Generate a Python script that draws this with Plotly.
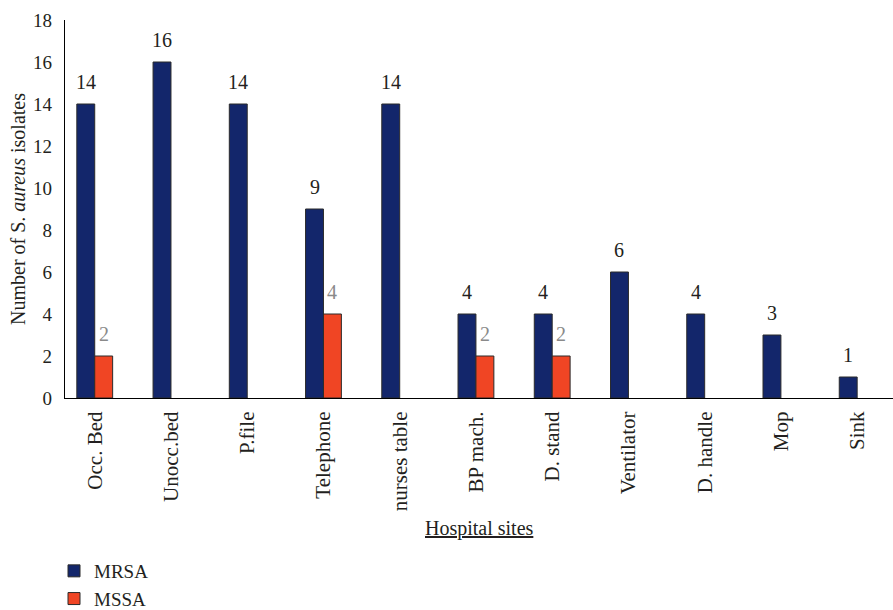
import plotly.graph_objects as go

sites = ["Occ. Bed", "Unocc.bed", "P.file", "Telephone", "nurses table", "BP mach.",
         "D. stand", "Ventilator", "D. handle", "Mop", "Sink"]
mrsa = [14, 16, 14, 9, 14, 4, 4, 6, 4, 3, 1]
mssa = [2, None, None, 4, None, 2, 2, None, None, None, None]

FONT = "Liberation Serif"
W, H = 893, 610
L, R, T, B = 65, 0, 20, 212
pw, ph = W - L - R, H - T - B
XR = [-0.39, 10.47]
BARGAP = 0.53
px_per_cat = pw / (XR[1] - XR[0])
bar_px = (1 - BARGAP) / 2 * px_per_cat

fig = go.Figure()
fig.add_trace(go.Bar(
    x=sites, y=mrsa, name="MRSA",
    marker=dict(color="#13266b", line=dict(color="#2b2b2b", width=1)),
))
fig.add_trace(go.Bar(
    x=sites, y=mssa, name="MSSA",
    marker=dict(color="#f04524", line=dict(color="#2b2b2b", width=1)),
))

annotations = []
for s, v in zip(sites, mrsa):
    if v is not None:
        annotations.append(dict(x=s, y=v, xref="x", yref="y", text=str(v), showarrow=False,
                                xshift=-bar_px / 2, yshift=9, yanchor="bottom", xanchor="center",
                                font=dict(family=FONT, size=20, color="#231f20")))
for s, v in zip(sites, mssa):
    if v is not None:
        annotations.append(dict(x=s, y=v, xref="x", yref="y", text=str(v), showarrow=False,
                                xshift=bar_px / 2, yshift=9, yanchor="bottom", xanchor="center",
                                font=dict(family=FONT, size=20, color="#8a8a8a")))
annotations += [
    dict(text="Number of S. <i>aureus</i> isolates", xref="paper", yref="paper",
         x=(18 - L) / pw, y=0.5, xanchor="center", yanchor="middle", textangle=-90,
         showarrow=False, font=dict(family=FONT, size=20, color="#231f20")),
    dict(text="<u>Hospital sites</u>", xref="paper", yref="paper",
         x=0.5, y=-(528 - (T + ph)) / ph, xanchor="center", yanchor="middle",
         showarrow=False, font=dict(family=FONT, size=20, color="#231f20")),
]

fig.update_layout(
    width=W, height=H,
    margin=dict(l=L, r=R, t=T, b=B, autoexpand=False),
    paper_bgcolor="white", plot_bgcolor="white",
    barmode="group", bargap=BARGAP, bargroupgap=0,
    font=dict(family=FONT, size=19, color="#231f20"),
    showlegend=True,
    legend=dict(x=(54 - L) / pw, yref="container", y=1 - 552 / H,
                xanchor="left", yanchor="top",
                font=dict(family=FONT, size=19, color="#231f20"),
                bgcolor="rgba(0,0,0,0)", tracegroupgap=0),
    xaxis=dict(range=XR, showline=True, linecolor="black", linewidth=1.2,
               tickangle=-90, ticks="outside", ticklen=4, tickcolor="rgba(0,0,0,0)",
               showgrid=False, zeroline=False,
               tickfont=dict(family=FONT, size=21, color="#231f20")),
    yaxis=dict(range=[0, 18], dtick=2, showline=True, linecolor="black", linewidth=1.2,
               ticks="outside", ticklen=8, tickcolor="rgba(0,0,0,0)",
               showgrid=False, zeroline=False,
               tickfont=dict(family=FONT, size=19, color="#231f20")),
    annotations=annotations,
)

fig.write_html("out.html")
